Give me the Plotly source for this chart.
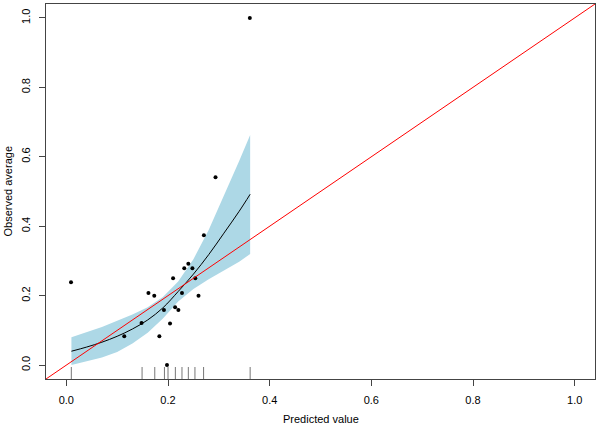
import plotly.graph_objects as go

# Observed averages (points)
pts_x = [0.0092, 0.114, 0.148, 0.1615, 0.173, 0.183, 0.192, 0.198, 0.204, 0.210, 0.2140,
         0.2204, 0.2275, 0.232, 0.240, 0.248, 0.2537, 0.260, 0.2706, 0.2935, 0.361]
pts_y = [0.239, 0.083, 0.121, 0.208, 0.200, 0.083, 0.159, 0.0, 0.120, 0.250, 0.167,
         0.159, 0.208, 0.279, 0.292, 0.279, 0.250, 0.200, 0.374, 0.541, 1.0]

# Smooth calibration curve with confidence band
fit_x = [0.01, 0.04, 0.07, 0.10, 0.13, 0.16, 0.19, 0.22, 0.25, 0.28, 0.31, 0.34, 0.3616]
fit_y = [0.040, 0.052, 0.066, 0.083, 0.104, 0.130, 0.165, 0.212, 0.262, 0.318, 0.380, 0.443, 0.492]
fit_lo = [0.000, 0.010, 0.022, 0.038, 0.062, 0.093, 0.134, 0.183, 0.219, 0.247, 0.273, 0.298, 0.320]
fit_hi = [0.080, 0.094, 0.110, 0.128, 0.146, 0.167, 0.196, 0.241, 0.305, 0.389, 0.487, 0.588, 0.663]

# Rug of predicted values
rug_x = [0.0098, 0.149, 0.174, 0.193, 0.200, 0.2145, 0.2275, 0.240, 0.253, 0.270, 0.3616]

tick_vals = [0.0, 0.2, 0.4, 0.6, 0.8, 1.0]
tick_text = ["0.0", "0.2", "0.4", "0.6", "0.8", "1.0"]

x_title = "Predicted value"
y_title = "Observed average"

FONT = "Liberation Sans, Arial, Helvetica, sans-serif"

fig = go.Figure()

# confidence band
fig.add_trace(go.Scatter(
    x=fit_x + fit_x[::-1], y=fit_hi + fit_lo[::-1],
    fill="toself", fillcolor="#ADD8E6", line=dict(width=0),
    mode="lines", hoverinfo="skip", showlegend=False))

# fitted curve
fig.add_trace(go.Scatter(x=fit_x, y=fit_y, mode="lines", line_shape="spline",
                         line=dict(color="black", width=1), showlegend=False))

# points
fig.add_trace(go.Scatter(x=pts_x, y=pts_y, mode="markers",
                         marker=dict(color="black", size=4), showlegend=False))

# identity line
fig.add_trace(go.Scatter(x=[-0.04, 1.04], y=[-0.04, 1.04], mode="lines",
                         line=dict(color="red", width=1), showlegend=False))

# rug
for rx in rug_x:
    fig.add_shape(type="line", xref="x", yref="y domain", x0=rx, x1=rx, y0=0, y1=0.032,
                  line=dict(color="#777777", width=1))

axis_common = dict(
    range=[-0.04, 1.04], tickvals=tick_vals, ticktext=tick_text,
    showgrid=False, zeroline=False, showline=True, mirror=True, automargin=False,
    linecolor="#444444", linewidth=1, ticks="outside", ticklen=6,
    tickcolor="#444444", tickfont=dict(family=FONT, size=11, color="black"),
)

fig.update_layout(
    width=600, height=426,
    margin=dict(l=46, r=5, t=4, b=47),
    plot_bgcolor="white", paper_bgcolor="white",
    font=dict(family=FONT, size=11, color="black"),
    xaxis=dict(**axis_common, ticklabelstandoff=5),
    yaxis=dict(**axis_common, tickangle=-90, ticklabelstandoff=5),
    annotations=[
        dict(text=x_title, xref="paper", yref="paper", x=0.5, y=-40 / 375,
             xanchor="center", yanchor="middle", showarrow=False,
             font=dict(family=FONT, size=11)),
        dict(text=y_title, xref="paper", yref="paper", x=-39 / 549, y=0.5,
             xanchor="center", yanchor="middle", textangle=-90, showarrow=False,
             font=dict(family=FONT, size=11)),
    ],
)

fig.write_html("out.html", config={"displayModeBar": False},
               post_script="document.body.style.margin='0';document.body.style.padding='0';")
